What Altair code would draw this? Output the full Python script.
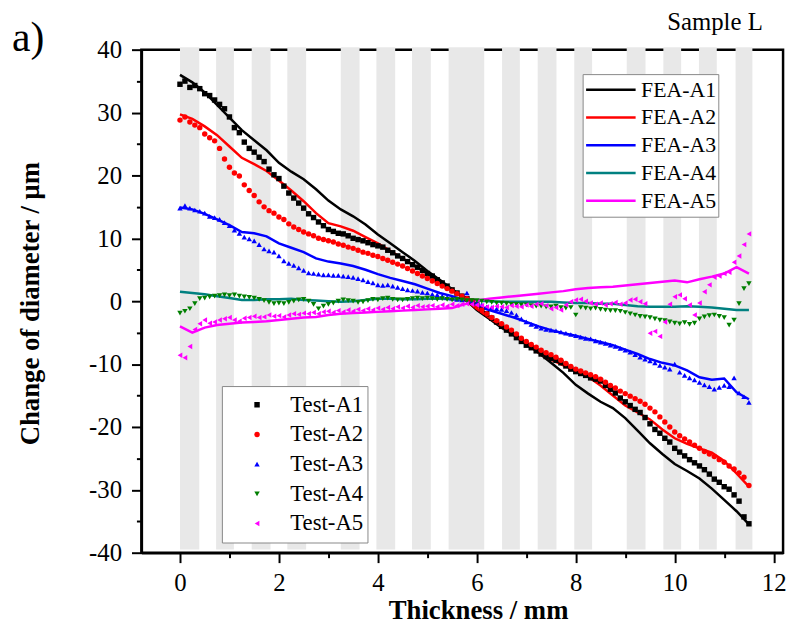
import altair as alt
import pandas as pd

# ---------------- data ----------------
BAND_START = [0.0, 0.73, 1.45, 2.17, 3.25, 3.97, 4.69, 5.43, 6.51, 7.23, 7.97, 9.03, 9.77, 10.49, 11.23]
BAND_END = [0.39, 1.09, 1.83, 2.55, 3.63, 4.35, 5.07, 6.15, 6.87, 7.61, 8.33, 9.41, 10.13, 10.85, 11.57]

FEA_X = [0, 0.25, 0.5, 0.75, 1, 1.25, 1.5, 1.75, 2, 2.25, 2.5, 2.75, 3, 3.25, 3.5, 3.75,
         4, 4.25, 4.5, 4.75, 5, 5.25, 5.5, 5.75, 6, 6.25, 6.5, 6.75, 7, 7.25, 7.5, 7.75,
         8, 8.25, 8.5, 8.75, 9, 9.25, 9.5, 9.75, 10, 10.25, 10.5, 10.75, 11, 11.25, 11.5]
FEA_A1 = [36.0, 34.8, 33.2, 31.2, 29.2, 27.2, 25.6, 24.0, 22.0, 20.6, 19.4, 17.8, 16.0, 14.6, 13.5, 12.2,
          10.6, 9.2, 7.8, 6.4, 4.8, 3.4, 1.9, 0.4, -1.4, -2.8, -4.2, -5.4, -6.7, -8.2, -9.8, -11.4,
          -13.3, -14.7, -16.0, -17.0, -18.6, -20.6, -22.6, -24.3, -25.9, -27.0, -28.2, -29.8, -31.6, -33.4, -35.5]
FEA_A2 = [29.7, 29.0, 27.8, 26.4, 24.6, 22.8, 21.8, 20.7, 19.2, 17.6, 15.9, 14.0, 12.4, 11.9, 11.2, 10.2,
          9.2, 8.0, 6.8, 5.6, 4.4, 3.1, 1.8, 0.4, -1.2, -2.6, -4.0, -5.4, -6.8, -8.2, -9.3, -10.2,
          -11.0, -12.0, -13.4, -15.0, -16.6, -17.7, -18.8, -20.4, -21.8, -22.7, -23.4, -24.1, -25.4, -27.4, -29.5]
FEA_A3 = [14.9, 14.6, 13.9, 13.0, 12.1, 11.0, 10.8, 10.3, 9.2, 8.5, 7.8, 6.8, 6.3, 6.0, 5.6, 5.0,
          4.3, 3.7, 3.2, 2.7, 2.0, 1.3, 0.8, 0.2, -0.8, -1.4, -2.0, -2.6, -3.3, -4.0, -4.6, -5.1,
          -5.5, -6.0, -6.5, -7.0, -7.7, -8.4, -9.2, -9.8, -10.2, -11.0, -12.1, -12.5, -12.3, -14.5, -15.6]
FEA_A4 = [1.5, 1.3, 1.1, 0.8, 0.5, 0.2, 0.2, 0.3, 0.3, 0.4, 0.2, 0.1, 0.0, -0.1, 0.0, 0.2,
          0.4, 0.4, 0.3, 0.3, 0.4, 0.4, 0.3, 0.2, 0.1, 0.0, -0.1, -0.1, -0.1, -0.1, -0.1, -0.2,
          -0.3, -0.3, -0.4, -0.4, -0.6, -0.8, -0.9, -0.9, -0.9, -0.8, -0.9, -1.0, -1.2, -1.4, -1.4]
FEA_A5 = [-4.0, -5.0, -4.2, -3.8, -3.6, -3.4, -3.3, -3.2, -3.0, -2.8, -2.6, -2.5, -2.2, -2.0, -1.9, -1.8,
          -1.7, -1.6, -1.5, -1.4, -1.3, -1.2, -1.1, -0.5, 0.1, 0.4, 0.6, 0.8, 1.0, 1.2, 1.4, 1.6,
          1.9, 2.1, 2.2, 2.3, 2.5, 2.7, 2.9, 3.1, 3.3, 3.0, 3.5, 3.9, 4.4, 5.4, 4.4]

TEST_X = [round(0.1 * i, 1) for i in range(116)]
TEST_A1 = [34.5, 35.0, 34.0, 34.3, 33.8, 33.0, 32.7, 32.0, 31.3, 30.6,
           29.3, 27.6, 26.8, 25.3, 24.3, 23.7, 22.9, 22.2, 21.0, 20.1,
           19.5, 18.3, 17.2, 16.4, 15.6, 14.8, 13.9, 13.3, 12.6, 12.0,
           11.4, 11.1, 10.8, 10.7, 10.4, 10.0, 9.8, 9.6, 9.3, 9.0,
           8.8, 8.6, 8.1, 7.7, 7.2, 6.8, 6.3, 5.8, 5.4, 4.9,
           4.4, 4.0, 3.4, 2.9, 2.4, 1.8, 1.3, 0.8, 0.4, 0.0,
           -0.6, -1.3, -2.0, -2.7, -3.3, -4.0, -4.6, -5.2, -5.8, -6.4,
           -7.0, -7.4, -7.9, -8.4, -8.8, -9.1, -9.4, -9.8, -10.3, -10.8,
           -11.2, -11.5, -11.8, -12.2, -12.4, -12.7, -13.4, -14.0, -14.6, -15.4,
           -16.0, -16.6, -17.2, -17.7, -18.5, -19.5, -20.4, -21.0, -21.8, -22.4,
           -23.4, -24.0, -24.6, -25.2, -25.7, -26.2, -26.8, -27.5, -28.3, -28.8,
           -29.5, -29.9, -30.8, -31.8, -34.3, -35.4]
TEST_A2 = [28.8, 29.3, 28.5, 28.0, 27.6, 26.6, 26.0, 25.5, 24.3, 22.6,
           21.3, 20.4, 19.9, 18.5, 17.6, 16.8, 15.8, 15.0, 14.4, 14.0,
           13.4, 13.0, 12.3, 11.8, 11.4, 11.0, 10.7, 10.4, 10.0, 9.8,
           9.6, 9.4, 9.1, 8.9, 8.6, 8.4, 8.1, 7.8, 7.6, 7.3,
           7.1, 6.8, 6.5, 6.2, 5.9, 5.6, 5.2, 4.8, 4.4, 4.0,
           3.6, 3.2, 2.8, 2.4, 2.0, 1.6, 1.2, 0.8, 0.4, 0.0,
           -0.8, -1.4, -2.0, -2.6, -3.1, -3.6, -4.1, -4.6, -5.2, -5.9,
           -6.4, -6.9, -7.3, -7.8, -8.2, -8.5, -8.9, -9.4, -9.9, -10.4,
           -10.8, -11.1, -11.4, -11.7, -12.0, -12.4, -12.9, -13.4, -13.8, -14.3,
           -14.7, -15.1, -15.5, -15.9, -16.4, -17.0, -17.6, -18.4, -19.2, -20.0,
           -20.8, -21.4, -21.9, -22.4, -22.9, -23.4, -23.9, -24.3, -24.7, -25.2,
           -25.6, -26.2, -26.7, -27.3, -28.0, -29.3]
TEST_A3 = [14.8, 15.2, 14.8, 14.5, 14.3, 14.0, 13.5, 13.3, 13.0, 12.5,
           12.0, 11.3, 10.8, 10.2, 9.9, 9.6, 9.0, 8.3, 8.0, 7.8,
           7.2, 6.4, 6.0, 5.7, 5.3, 4.9, 4.5, 4.4, 4.3, 4.2,
           4.2, 4.1, 4.1, 4.0, 3.9, 3.8, 3.6, 3.4, 3.1, 2.9,
           2.6, 2.5, 2.6, 2.4, 2.2, 2.0, 1.8, 1.7, 1.6, 1.4,
           1.3, 1.1, 1.0, 0.8, 0.6, 0.5, 0.3, 0.2, 1.3, 0.0,
           -0.3, -0.6, -0.9, -1.0, -1.2, -1.3, -1.5, -1.8, -2.2, -2.8,
           -3.3, -3.7, -4.0, -4.3, -4.5, -4.6, -4.7, -4.9, -5.1, -5.3,
           -5.5, -5.7, -5.9, -6.0, -6.3, -6.5, -6.7, -7.0, -7.2, -7.5,
           -7.8, -8.1, -8.5, -8.9, -9.2, -9.5, -9.8, -10.2, -10.5, -10.8,
           -10.0, -11.3, -11.8, -12.2, -12.5, -12.9, -13.3, -13.6, -14.0, -13.7,
           -13.4, -13.6, -12.2, -14.6, -15.2, -16.1]
TEST_A4 = [-1.9, -1.6, -1.2, -0.4, 0.4, 0.5, 0.7, 0.8, 0.9, 1.0,
           0.9, 1.0, 0.8, 0.7, 0.6, 0.5, 0.3, 0.1, -0.2, -0.4,
           -0.3, -0.4, -0.2, 0.0, 0.2, 0.3, 0.0, -0.5, -1.2, -0.8,
           -0.5, -0.3, 0.0, 0.2, 0.1, 0.0, -0.2, -0.1, 0.1, 0.3,
           0.2, 0.4, 0.5, 0.3, 0.2, 0.2, 0.3, 0.4, 0.5, 0.4,
           0.5, 0.4, 0.3, 0.4, 0.3, 0.2, 0.3, 0.2, 0.1, 0.1,
           0.1, 0.0, -0.1, -0.2, -0.3, -0.3, -0.4, -0.5, -0.5, -0.6,
           -0.6, -0.7, -0.8, -0.8, -0.9, -0.9, -0.8, -1.0, -1.1, -1.0,
           -2.2, -1.0, -1.1, -1.2, -1.1, -1.3, -1.4, -1.5, -1.5, -1.6,
           -1.8, -2.0, -2.2, -2.4, -2.5, -2.6, -2.8, -3.0, -3.1, -3.3,
           -3.5, -3.6, -3.4, -3.7, -3.5, -2.8, -2.5, -2.3, -2.2, -2.4,
           -2.6, -3.8, -3.0, -0.4, 2.0, 2.8]
TEST_A5 = [-8.6, -9.0, -7.2, -4.5, -3.6, -3.0, -3.5, -3.3, -3.0, -2.8,
           -2.6, -3.0, -3.2, -2.7, -2.6, -2.4, -2.6, -2.5, -2.2, -2.4,
           -2.3, -2.5, -2.2, -2.0, -2.1, -1.9, -2.0, -1.8, -2.0, -1.7,
           -1.6, -1.8, -1.5, -1.7, -1.4, -1.6, -1.3, -1.5, -1.2, -1.4,
           -1.1, -1.3, -1.0, -1.2, -0.9, -1.1, -0.8, -1.0, -0.7, -0.9,
           -0.8, -0.7, -0.9, -0.6, -0.8, -0.5, -0.7, -0.5, -0.4, -0.5,
           -0.6, -0.7, -0.9, -1.0, -0.8, -0.9, -1.0, -0.7, -0.8, -0.9,
           -0.6, -0.8, -0.5, -0.4, -0.7, -1.2, -1.0, -1.4, -0.6, -0.1,
           0.2, 0.3, 0.0, -0.3, -0.5, -0.3, -0.6, -0.4, -0.2, -0.5,
           -0.3, 0.2, 0.3, -0.1, -0.4, -5.1, -4.8, -5.6, -3.3, -0.5,
           0.7, 1.0, 0.4, -0.6, -2.2, -0.3, 1.5, 2.6, 3.8, 4.0,
           4.4, 4.6, 6.2, 7.2, 9.0, 10.7]

FEA_NAMES = ["FEA-A1", "FEA-A2", "FEA-A3", "FEA-A4", "FEA-A5"]
FEA_COLORS = ["#000000", "#ff0000", "#0000ff", "#008080", "#ff00ff"]
TEST_NAMES = ["Test-A1", "Test-A2", "Test-A3", "Test-A4", "Test-A5"]
TEST_COLORS = ["#000000", "#ff0000", "#0000ff", "#007f00", "#ff00ff"]
TEST_SHAPES = ["square", "circle", "triangle-up", "triangle-down", "triangle-left"]
TEST_SIZES = [30, 30, 50, 50, 50]

X_DOMAIN = [-0.78, 12.19]
Y_DOMAIN = [-40, 40]
BAND_Y = [-39.5, 40.4]

# ---------------- tables ----------------
bands = pd.DataFrame({"start": BAND_START, "end": BAND_END})
fea_rows = []
for name, ys in zip(FEA_NAMES, [FEA_A1, FEA_A2, FEA_A3, FEA_A4, FEA_A5]):
    for x, y in zip(FEA_X, ys):
        fea_rows.append({"x": x, "y": y, "series": name})
fea = pd.DataFrame(fea_rows)
test_rows = []
for name, ys in zip(TEST_NAMES, [TEST_A1, TEST_A2, TEST_A3, TEST_A4, TEST_A5]):
    for x, y in zip(TEST_X, ys):
        test_rows.append({"x": x, "y": y, "test": name})
test = pd.DataFrame(test_rows)

SERIF = "Liberation Serif"

xscale = alt.Scale(domain=X_DOMAIN, nice=False, zero=False)
yscale = alt.Scale(domain=Y_DOMAIN, nice=False, zero=False)

x_axis = alt.Axis(
    title="Thickness / mm", values=list(range(0, 13)),
    labelExpr="datum.value % 2 === 0 ? '' + datum.value : ''",
    tickSize={"condition": {"test": "datum.value % 2 === 0", "value": 10}, "value": 5},
    labelPadding=8, titleX=340, titleY=58, titleBaseline="middle",
)
y_axis = alt.Axis(
    title="Change of diameter / μm", values=list(range(-40, 45, 5)),
    labelExpr="datum.value % 10 === 0 ? '' + datum.value : ''",
    tickSize={"condition": {"test": "datum.value % 10 === 0", "value": 10}, "value": 5},
    labelPadding=10, titleX=-112, titleY=256, titleAngle=270, titleBaseline="middle",
)

band_layer = alt.Chart(bands).mark_rect(color="#e8e8e8").encode(
    x=alt.X("start:Q", scale=xscale, axis=x_axis),
    x2="end:Q",
    y=alt.datum(BAND_Y[0], scale=yscale, axis=y_axis),
    y2=alt.datum(BAND_Y[1]),
)

fea_layer = alt.Chart(fea).mark_line(strokeWidth=2.5).encode(
    x=alt.X("x:Q", scale=xscale, axis=x_axis),
    y=alt.Y("y:Q", scale=yscale, axis=y_axis),
    color=alt.Color("series:N", scale=alt.Scale(domain=FEA_NAMES, range=FEA_COLORS),
                    legend=alt.Legend(title=None, orient="none", legendX=445.6, legendY=24.7,
                                      symbolType="stroke", symbolSize=2500, symbolStrokeWidth=2.5,
                                      clipHeight=27.7, rowPadding=0, padding=2,
                                      labelFont=SERIF, labelFontSize=22, labelColor="black",
                                      labelOffset=4, strokeColor="#888888", fillColor="white")),
    detail="series:N",
)

test_legend = alt.Legend(title=None, orient="none", legendX=81.3, legendY=339.7,
                         clipHeight=29.7, rowPadding=0, padding=4, symbolSize=40,
                         symbolOffset=20, labelOffset=22,
                         labelFont=SERIF, labelFontSize=23, labelColor="black",
                         strokeColor="#888888", fillColor="white")

test_layer = alt.Chart(test).mark_point(filled=True, opacity=1).encode(
    x=alt.X("x:Q", scale=xscale, axis=x_axis),
    y=alt.Y("y:Q", scale=yscale, axis=y_axis),
    color=alt.Color("test:N", scale=alt.Scale(domain=TEST_NAMES, range=TEST_COLORS), legend=test_legend),
    shape=alt.Shape("test:N", scale=alt.Scale(domain=TEST_NAMES, range=TEST_SHAPES), legend=test_legend),
    size=alt.Size("test:N", scale=alt.Scale(domain=TEST_NAMES, range=TEST_SIZES), legend=None),
)

panel_label = alt.Chart(pd.DataFrame({"t": ["a)"]})).mark_text(
    align="left", baseline="alphabetic", font=SERIF, fontSize=42, color="black"
).encode(text="t:N", x=alt.value(-130.7), y=alt.value(1.3))

sample_label = alt.Chart(pd.DataFrame({"t": ["Sample L"]})).mark_text(
    align="left", baseline="alphabetic", font=SERIF, fontSize=25, color="black"
).encode(text="t:N", x=alt.value(531), y=alt.value(-19.7))

chart = alt.layer(band_layer, fea_layer, test_layer, panel_label, sample_label).resolve_scale(
    color="independent", shape="independent", size="independent"
).properties(
    width=648, height=508, autosize="none",
    padding={"left": 134.7, "top": 39, "right": 7, "bottom": 78},
).configure_view(stroke="black", strokeWidth=2.5).configure_axis(
    domainColor="black", domainWidth=2.5, tickColor="black", tickWidth=2,
    labelFont=SERIF, labelFontSize=25, labelColor="black", labelOverlap=False, labelFlush=False,
    titleFont=SERIF, titleFontSize=27, titleFontWeight="bold", titleColor="black", grid=False,
)

chart.save("out.html", embed_options={"renderer": "svg", "actions": False})
